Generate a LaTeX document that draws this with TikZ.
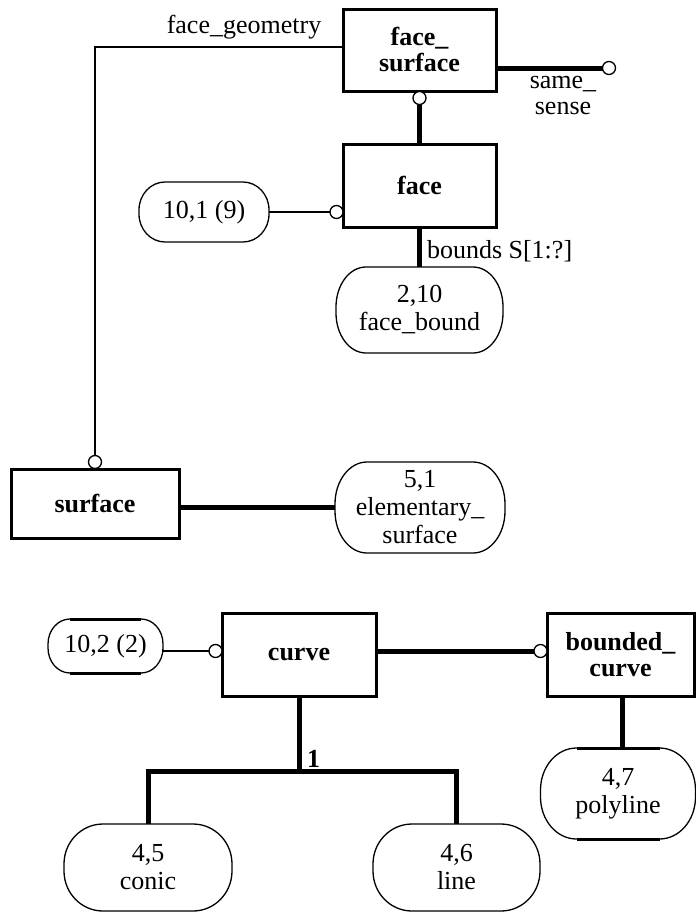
\documentclass[tikz,border=0pt]{standalone}
\usepackage{fontspec}
\setmainfont{Liberation Serif}

% outline of a rounded terminator box: node name, x radius, y radius
\newcommand\drawterm[3]{%
  \draw[termedge] ([xshift=#2pt]#1.north west) -- ([xshift=-#2pt]#1.north east)
    arc[start angle=90,end angle=0,x radius=#2pt,y radius=#3pt]
    -- ([yshift=#3pt]#1.south east)
    arc[start angle=0,end angle=-90,x radius=#2pt,y radius=#3pt]
    -- ([xshift=#2pt]#1.south west)
    arc[start angle=270,end angle=180,x radius=#2pt,y radius=#3pt]
    -- ([yshift=-#3pt]#1.north west)
    arc[start angle=180,end angle=90,x radius=#2pt,y radius=#3pt] -- cycle;}

% heavier straight top and bottom edges of a terminator
\newcommand\heavyflats[2]{%
  \draw[line width=3pt] ([xshift=#2pt]#1.north west) -- ([xshift=-#2pt]#1.north east);
  \draw[line width=3pt] ([xshift=#2pt]#1.south west) -- ([xshift=-#2pt]#1.south east);}

\begin{document}
\begin{tikzpicture}[x=1pt,y=1pt,
  every node/.style={inner sep=0pt, outer sep=0pt, align=center,
    font=\fontsize{26}{28}\selectfont},
  entity/.style={draw, line width=3pt, font=\fontsize{26}{26}\selectfont\bfseries},
  term/.style={},
  termedge/.style={line width=1.3pt},
  ring/.style={circle, draw, fill=white, line width=1.3pt, minimum size=13pt},
  thinlink/.style={line width=2pt},
  thicklink/.style={line width=5pt},
  lbl/.style={font=\fontsize{26}{28}\selectfont}
]
\useasboundingbox (0,0) rectangle (696,-913);

% entities
\node[entity, minimum width=153pt, minimum height=82pt] (fs) at (419.5,-50) {face\_\\surface};
\node[entity, minimum width=153pt, minimum height=83pt] (face) at (419.5,-185.5) {face};
\node[entity, minimum width=168pt, minimum height=69pt] (surf) at (95,-503.5) {surface};
\node[entity, minimum width=154pt, minimum height=83pt] (curve) at (299,-654.5) {curve};
\node[entity, minimum width=147pt, minimum height=83pt] (bcurve) at (620.5,-654.5) {bounded\_\\curve};

% references to other pages
\node[term, minimum width=130pt, minimum height=60pt] (t101) at (204,-212) {10,1 (9)};
\node[term, minimum width=167pt, minimum height=86pt] (fbound) at (419.5,-310) {2,10\\face\_bound};
\node[term, minimum width=170pt, minimum height=91pt] (esurf) at (420,-507.5) {5,1\\elementary\_\\surface};
\node[term, minimum width=115pt, minimum height=54pt] (t102) at (105.5,-646) {\raisebox{3pt}{10,2 (2)}};
\node[term, minimum width=155pt, minimum height=91pt] (poly) at (618,-793.5) {4,7\\polyline};
\node[term, minimum width=168pt, minimum height=87pt] (conic) at (148,-867.5) {4,5\\conic};
\node[term, minimum width=167pt, minimum height=87pt] (lin) at (456.5,-867.5) {4,6\\line};

\drawterm{t101}{26}{28}
\drawterm{fbound}{30}{40}
\drawterm{esurf}{32}{42}
\drawterm{t102}{22}{25}
\drawterm{poly}{36}{42}
\drawterm{conic}{39}{40}
\drawterm{lin}{39}{40}
\heavyflats{t102}{22}
\heavyflats{poly}{36}

% optional-attribute rings
\node[ring] (c1) at (609,-68) {};
\node[ring] (c2) at (419.5,-98) {};
\node[ring] (c3) at (336.5,-212) {};
\node[ring] (c4) at (95,-462) {};
\node[ring] (c5) at (215.5,-651) {};
\node[ring] (c6) at (540.5,-651) {};

% relationships
\draw[thinlink] ([yshift=3pt]fs.west) -| (c4.north);
\draw[thicklink] ([yshift=-18pt]fs.east) -- (c1.west);
\draw[thicklink] (c2.south) -- (face.north);
\draw[thinlink] (t101.east) -- (c3.west);
\draw[thicklink] (face.south) -- (fbound.north);
\draw[thicklink] (surf.east |- esurf.west) -- (esurf.west);
\draw[thinlink] (t102.east |- c5.west) -- (c5.west);
\draw[thicklink] (curve.east |- c6.west) -- (c6.west);
\draw[thicklink] ([xshift=2pt]bcurve.south) -- ([xshift=2pt]bcurve.south |- poly.north);
\coordinate (br) at (299,-771);
\draw[thicklink] (curve.south) -- (br);
\draw[thicklink] (conic.north) |- (br) -| (lin.north);

% labels
\node[lbl, anchor=base] (lgeo) at (244,-33) {face\_geometry};
\node[lbl, anchor=base west] (lbounds) at (427,-258) {bounds S[1:?]};
\node[lbl, anchor=base west, font=\fontsize{26}{28}\selectfont\bfseries] (lone) at (307,-767) {1};
\node[lbl, font=\fontsize{26}{26}\selectfont] (lsense) at (563,-95) {same\_\\sense};
\end{tikzpicture}
\end{document}
